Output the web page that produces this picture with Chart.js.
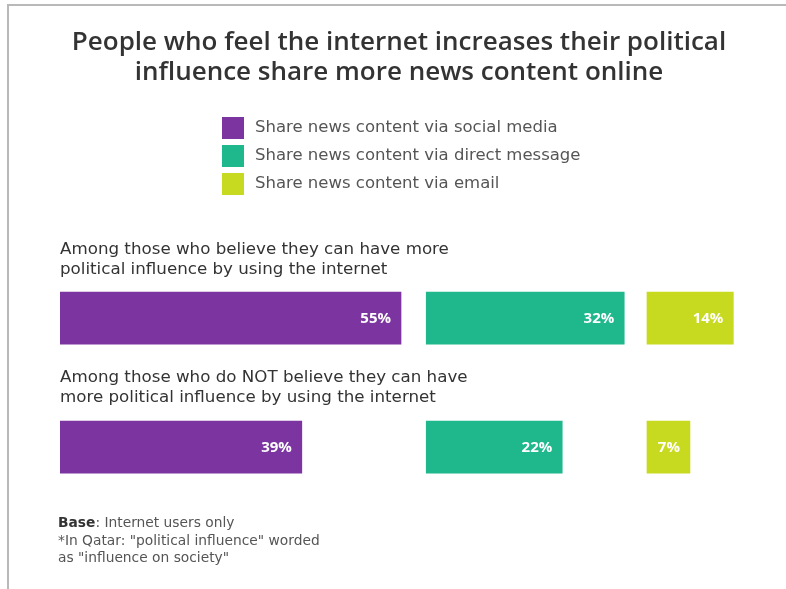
<!DOCTYPE html>
<html>
<head>
<meta charset="utf-8">
<script src="https://cdn.jsdelivr.net/npm/chart.js@4.4.0/dist/chart.umd.min.js"></script>
<style>
  html, body { margin: 0; padding: 0; background: #fff; }
  #wrap { position: relative; width: 786px; height: 589px; overflow: hidden; }
  #frame {
    position: absolute; left: 7px; top: 4px; right: -10px; bottom: -10px;
    border-top: 2px solid #b9b9b9; border-left: 2px solid #b9b9b9;
  }
  #chart { position: absolute; left: 0; top: 0; }
  .note {
    position: absolute; left: 58px; top: 514px;
    font-family: "DejaVu Sans", sans-serif; font-size: 13.8px; line-height: 17.5px; color: #555;
  }
  .note b { color: #333; font-weight: 700; }
</style>
</head>
<body>
<div id="wrap">
  <div id="frame"></div>
  <canvas id="chart" width="786" height="589"></canvas>
  <div class="note"><b>Base</b>: Internet users only<br>*In Qatar: "political influence" worded<br>as "influence on society"</div>
</div>
<script>
// Groups (each label split into its two printed lines)
const groups = [
  ['Among those who believe they can have more', 'political influence by using the internet'],
  ['Among those who do NOT believe they can have', 'more political influence by using the internet']
];
const seriesNames = [
  'Share news content via social media',
  'Share news content via direct message',
  'Share news content via email'
];
const socialMedia = [55, 39];
const directMessage = [32, 22];
const email = [14, 7];

const colors = ['#7b34a0', '#1fb78c', '#c8da1f'];
const textColor = '#333';
const bodyFont = '"DejaVu Sans", sans-serif';

// Row captions sit above each bar, left-aligned with the chart area
const groupCaptions = {
  id: 'groupCaptions',
  afterDatasetsDraw(chart) {
    const { ctx, chartArea, scales } = chart;
    ctx.save();
    ctx.font = '16.7px ' + bodyFont;
    ctx.fillStyle = textColor;
    ctx.textAlign = 'left';
    ctx.textBaseline = 'middle';
    groups.forEach((lines, i) => {
      const barTop = scales.y.getPixelForValue(i) - 26;
      ctx.fillText(lines[0], chartArea.left, barTop - 43);
      ctx.fillText(lines[1], chartArea.left, barTop - 23);
    });
    ctx.restore();
  }
};

// Percent labels inside the end of each bar
const valueLabels = {
  id: 'valueLabels',
  afterDatasetsDraw(chart) {
    const { ctx } = chart;
    ctx.save();
    ctx.font = 'bold 15px "Open Sans", sans-serif';
    ctx.fillStyle = '#fff';
    ctx.textAlign = 'right';
    ctx.textBaseline = 'middle';
    chart.data.datasets.forEach((ds, di) => {
      chart.getDatasetMeta(di).data.forEach((bar, i) => {
        ctx.fillText(ds.data[i] + '%', bar.x - 10, bar.y + 1);
      });
    });
    ctx.restore();
  }
};

// Vertical legend with square swatches, under the title
const stackedLegend = {
  id: 'stackedLegend',
  afterDraw(chart) {
    const { ctx } = chart;
    ctx.save();
    ctx.font = '16.5px ' + bodyFont;
    ctx.textAlign = 'left';
    ctx.textBaseline = 'middle';
    chart.data.datasets.forEach((ds, i) => {
      const top = 117 + i * 28;
      ctx.fillStyle = ds.backgroundColor;
      ctx.fillRect(222, top, 22, 22);
      ctx.fillStyle = '#555';
      ctx.fillText(ds.label, 255, top + 11);
    });
    ctx.restore();
  }
};

const hiddenAxis = (max, weight) => ({
  type: 'linear',
  position: 'bottom',
  stack: 'panels',
  stackWeight: weight,
  min: 0,
  max: max,
  display: false
});

new Chart(document.getElementById('chart'), {
  type: 'bar',
  data: {
    labels: groups.map(g => g.join(' ')),
    datasets: [
      { label: seriesNames[0], data: socialMedia, backgroundColor: colors[0], xAxisID: 'x1' },
      { label: seriesNames[1], data: directMessage, backgroundColor: colors[1], xAxisID: 'x2' },
      { label: seriesNames[2], data: email, backgroundColor: colors[2], xAxisID: 'x3' }
    ]
  },
  options: {
    indexAxis: 'y',
    responsive: false,
    animation: false,
    datasets: {
      bar: { barThickness: 52, grouped: false }
    },
    layout: {
      padding: { left: 60, right: 48, top: 0, bottom: 77.5 }
    },
    scales: {
      // three side-by-side panels sharing the same px-per-percent
      x1: hiddenAxis(59, 59),
      x2: hiddenAxis(35.6, 35.6),
      x3: hiddenAxis(14.75, 14.75),
      y: { type: 'category', display: false }
    },
    plugins: {
      legend: { display: false },
      tooltip: { enabled: false },
      title: {
        display: true,
        text: [
          'People who feel the internet increases their political',
          'influence share more news content online'
        ],
        color: textColor,
        font: { family: '"Open Sans", sans-serif', size: 26, weight: '600', lineHeight: 1.12 },
        padding: { top: 28.5, bottom: 167 }
      }
    }
  },
  plugins: [groupCaptions, valueLabels, stackedLegend]
});
</script>
</body>
</html>
